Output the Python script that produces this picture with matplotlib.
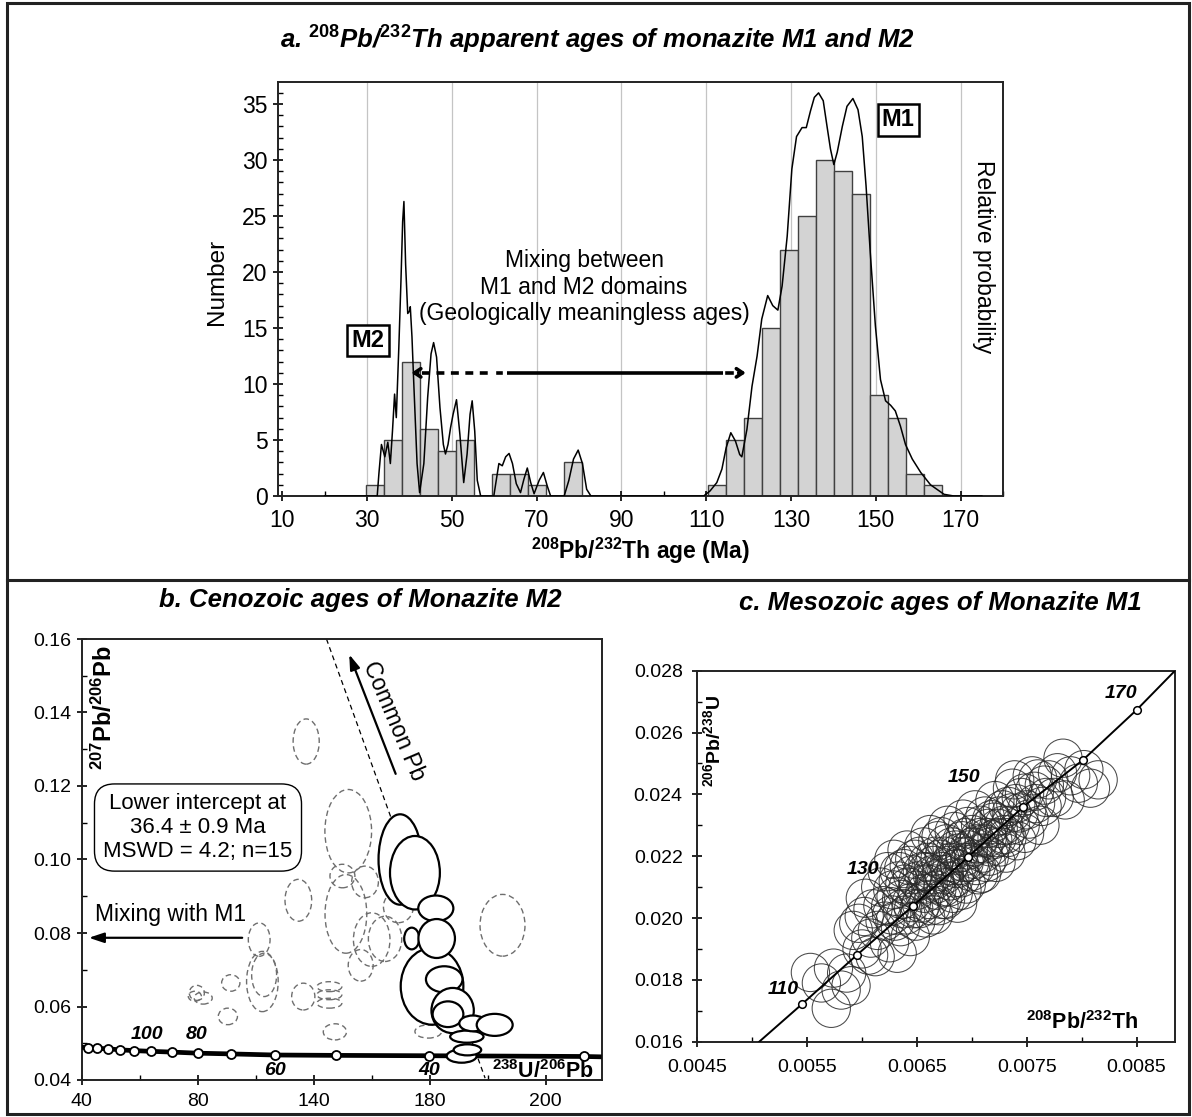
import matplotlib
matplotlib.use("Agg")
import matplotlib.pyplot as plt
from matplotlib.patches import Ellipse, Rectangle
from matplotlib.lines import Line2D

plt.rcParams['font.family'] = ['Liberation Sans', 'DejaVu Sans']
plt.rcParams['mathtext.fontset'] = 'custom'
plt.rcParams['mathtext.rm'] = 'Liberation Sans:bold'
plt.rcParams['mathtext.it'] = 'Liberation Sans:bold:italic'
plt.rcParams['mathtext.bf'] = 'Liberation Sans:bold'

# ---- a. histogram + probability curve ----
bin_start = 29.7
bin_width = 4.25
counts = [1, 5, 12, 6, 4, 5, 0, 2, 2, 1, 0, 3,
          0, 0, 0, 0, 0, 0, 0,
          1, 5, 7, 15, 22, 25, 30, 29, 27, 9, 7, 2, 1]

prob_age = [20, 32.4, 32.8, 33.4, 34.2, 34.9, 35.5, 36.0, 36.5, 36.9,
            37.5, 38.0, 38.4, 38.7, 39.1, 39.6, 40.0, 40.2, 40.6, 41.0,
            41.8, 42.4, 43.4, 44.3, 45.1, 45.7, 46.4, 47.2, 48.0, 48.5,
            49.1, 49.7, 50.3, 51.1, 51.9, 52.8, 53.6, 54.3, 54.8, 55.4,
            56.0, 56.8, 59.9, 60.6, 61.1, 61.9, 62.7, 63.5, 64.3, 65.2,
            66.2, 67.0, 67.8, 68.6, 69.4, 70.6, 71.6, 72.5, 73.3, 76.5,
            77.6, 78.7, 79.8, 80.8, 81.8, 82.8, 109.4, 110.9, 112.5, 113.7,
            114.7, 115.8, 116.9, 117.9, 118.4, 119.6, 120.8, 122.0, 123.1, 124.5,
            125.7, 126.9, 127.9, 129.1, 130.2, 131.3, 132.6, 133.6, 134.6, 135.5,
            136.5, 137.6, 138.5, 139.3, 140.1, 140.9, 142.1, 143.2, 144.6, 145.8,
            146.8, 147.7, 148.7, 149.9, 151.1, 152.3, 153.5, 154.6, 155.8, 157.0,
            158.6, 160.6, 162.9, 166.1, 168.4, 175]
prob_val = [0, 0, 2.0, 4.6, 3.5, 4.8, 2.9, 5.8, 9.1, 7.0,
            13.3, 19.2, 24.5, 26.3, 20.7, 16.3, 16.5, 16.9, 14.2, 10.3,
            2.9, 0.3, 2.9, 8.8, 12.7, 13.7, 12.4, 7.9, 4.6, 3.75,
            4.6, 6.1, 7.3, 8.6, 5.5, 1.2, 3.75, 7.3, 8.5, 5.8,
            1.4, 0, 0, 1.7, 2.9, 2.7, 3.5, 3.8, 2.9, 1.1,
            0.3, 1.5, 2.5, 1.2, 0.2, 1.4, 2.1, 0.9, 0, 0,
            1.4, 3.3, 4.1, 2.9, 0.6, 0, 0, 0.45, 1.2, 2.4,
            4.3, 5.65, 4.9, 3.7, 3.5, 5.95, 9.8, 12.5, 15.8, 17.9,
            17.0, 16.6, 18.75, 23.2, 29.2, 32.1, 32.9, 32.9, 34.4, 35.6,
            36.0, 35.3, 33.0, 31.0, 29.6, 30.7, 33.0, 34.8, 35.5, 34.5,
            32.1, 27.7, 21.7, 15.2, 10.4, 8.5, 8.1, 7.6, 6.25, 4.6,
            3.3, 2.1, 1.0, 0.15, 0, 0]

# ---- b. Tera-Wasserburg (M2) ----
conc_b_age = [150, 140, 130, 120, 110, 100, 90, 80, 70, 60, 50, 40, 30]
conc_b_x = [42.3, 45.4, 49.0, 53.2, 58.0, 63.9, 71.0, 80.0, 91.4, 106.7, 127.8, 159.8, 213.3]
conc_b_y = [0.0488, 0.0486, 0.0485, 0.0482, 0.0480, 0.0478, 0.0476, 0.0473, 0.0471,
            0.0468, 0.0467, 0.0466, 0.0464]
conc_b_ends_x = [40.0, 219.3]
conc_b_ends_y = [0.0489, 0.0463]

# solid ellipses (used in intercept): centre x, centre y, width, height
sol_x = [153.8, 160.8, 149.8, 154.9, 162.1, 162.4, 165.0, 167.9, 166.3, 172.8, 174.9, 182.4, 171.0, 173.0]
sol_y = [0.0785, 0.0655, 0.1000, 0.0964, 0.0867, 0.0785, 0.0674, 0.0589, 0.0579, 0.0518,
         0.0554, 0.0550, 0.0465, 0.0482]
sol_w = [5.2, 21.6, 14.9, 17.2, 12.1, 12.6, 12.6, 14.6, 10.6, 11.5, 9.4, 12.4, 10.3, 9.5]
sol_h = [0.0059, 0.0209, 0.0246, 0.0200, 0.0070, 0.0106, 0.0071, 0.0123, 0.0070, 0.0033,
         0.0043, 0.0060, 0.0036, 0.0030]

# dashed ellipses (rejected analyses)
dash_x = [117.4, 131.9, 114.7, 101.2, 102.3, 102.9, 91.4, 90.4, 79.7, 81.9, 79.0, 116.4,
          125.4, 125.4, 125.4, 127.3, 159.5, 129.9, 137.7, 131.1, 149.2, 140.0, 144.6, 136.2, 185.1]
dash_y = [0.1321, 0.1077, 0.0889, 0.0782, 0.0668, 0.0686, 0.0664, 0.0573, 0.0637, 0.0623,
          0.0628, 0.0627, 0.0654, 0.0632, 0.0609, 0.0531, 0.0532, 0.0955, 0.0939, 0.0852,
          0.0871, 0.0782, 0.0784, 0.0712, 0.0821]
dash_w = [9.0, 16.1, 9.2, 7.5, 10.9, 8.6, 6.3, 6.6, 5.2, 6.2, 4.5, 8.0,
          8.6, 8.6, 8.6, 8.0, 9.2, 8.6, 9.2, 14.4, 10.3, 12.6, 11.5, 8.6, 15.5]
dash_h = [0.0123, 0.0227, 0.0114, 0.0091, 0.0164, 0.0118, 0.0045, 0.0045, 0.0041, 0.0033,
          0.0027, 0.0073, 0.0027, 0.0027, 0.0027, 0.0044, 0.0036, 0.0064, 0.0086, 0.0214,
          0.0086, 0.0146, 0.0123, 0.0086, 0.0168]

discordia_x = [124.4, 179.1]
discordia_y = [0.16, 0.0405]

# ---- c. 206Pb/238U vs 208Pb/232Th (M1) ----
conc_c_age = [110, 120, 130, 140, 150, 160, 170]
conc_c_x = [0.005455, 0.005952, 0.006462, 0.006965, 0.007468, 0.008008, 0.008500]
conc_c_y = [0.01722, 0.01880, 0.02039, 0.02197, 0.02360, 0.02510, 0.02673]
conc_c_ends_x = [0.005064, 0.00885]
conc_c_ends_y = [0.016, 0.028]

c_x = [0.00553, 0.00563, 0.00572, 0.00574, 0.00581, 0.00586, 0.00590, 0.00592, 0.00597, 0.00600,
       0.00602, 0.00603, 0.00608, 0.00610, 0.00606, 0.00612, 0.00614, 0.00617, 0.00619, 0.00621,
       0.00623, 0.00625, 0.00626, 0.00628, 0.00629, 0.00630, 0.00632, 0.00633, 0.00635, 0.00636,
       0.00638, 0.00640, 0.00641, 0.00642, 0.00644, 0.00645, 0.00646, 0.00648, 0.00649, 0.00650,
       0.00652, 0.00654, 0.00655, 0.00656, 0.00658, 0.00659, 0.00660, 0.00661, 0.00662, 0.00664,
       0.00665, 0.00666, 0.00667, 0.00668, 0.00669, 0.00670, 0.00672, 0.00673, 0.00674, 0.00675,
       0.00676, 0.00678, 0.00679, 0.00680, 0.00682, 0.00683, 0.00684, 0.00686, 0.00687, 0.00688,
       0.00690, 0.00691, 0.00692, 0.00693, 0.00695, 0.00696, 0.00697, 0.00699, 0.00700, 0.00702,
       0.00703, 0.00705, 0.00706, 0.00708, 0.00709, 0.00710, 0.00712, 0.00714, 0.00716, 0.00718,
       0.00719, 0.00721, 0.00722, 0.00724, 0.00726, 0.00728, 0.00730, 0.00731, 0.00733, 0.00735,
       0.00737, 0.00739, 0.00741, 0.00743, 0.00745, 0.00748, 0.00748, 0.00752, 0.00755, 0.00758,
       0.00762, 0.00764, 0.00766, 0.00770, 0.00775, 0.00783, 0.00785, 0.00790, 0.00797, 0.00815,
       0.00627, 0.00631, 0.00634, 0.00637, 0.00639, 0.00643, 0.00647, 0.00651, 0.00653, 0.00657,
       0.00659, 0.00663, 0.00665, 0.00667, 0.00671, 0.00673, 0.00675, 0.00677, 0.00679, 0.00681,
       0.00684, 0.00685, 0.00689, 0.00691, 0.00694, 0.00694, 0.00698, 0.00701, 0.00704, 0.00707,
       0.00711, 0.00713, 0.00715, 0.00717, 0.00720, 0.00723, 0.00725, 0.00729, 0.00732, 0.00736,
       0.00740, 0.00744, 0.00750, 0.00757, 0.00760, 0.00768, 0.00778, 0.00802, 0.00808]
c_y = [0.01824, 0.01790, 0.01708, 0.01838, 0.01767, 0.01822, 0.01781, 0.01960, 0.01983, 0.01900,
       0.02005, 0.02064, 0.01935, 0.02030, 0.01880, 0.01875, 0.01960, 0.02100, 0.02040, 0.01990,
       0.02150, 0.01920, 0.02037, 0.02091, 0.02190, 0.01990, 0.01886, 0.02120, 0.01972, 0.02060,
       0.02160, 0.02010, 0.02220, 0.02100, 0.01940, 0.02050, 0.02140, 0.02190, 0.01990, 0.02090,
       0.02030, 0.02048, 0.02150, 0.02230, 0.02000, 0.02110, 0.02180, 0.02060, 0.02270, 0.02140,
       0.02010, 0.02123, 0.02200, 0.02090, 0.02250, 0.02040, 0.02263, 0.02150, 0.02100, 0.02200,
       0.02060, 0.02300, 0.02170, 0.02120, 0.02230, 0.02080, 0.02280, 0.02160, 0.02048, 0.02210,
       0.02130, 0.02250, 0.02320, 0.02180, 0.02110, 0.02296, 0.02220, 0.02150, 0.02270, 0.02190,
       0.02350, 0.02240, 0.02140, 0.02300, 0.02145, 0.02210, 0.02330, 0.02260, 0.02200, 0.02318,
       0.02253, 0.02380, 0.02180, 0.02290, 0.02230, 0.02350, 0.02270, 0.02210, 0.02361, 0.02300,
       0.02420, 0.02447, 0.02250, 0.02340, 0.02390, 0.02274, 0.02404, 0.02320, 0.02460, 0.02370,
       0.02300, 0.02361, 0.02430, 0.02447, 0.02390, 0.02517, 0.02382, 0.02460, 0.02436, 0.02447,
       0.02010, 0.02070, 0.02150, 0.02030, 0.02110, 0.02170, 0.02030, 0.02120, 0.02200, 0.02080,
       0.02150, 0.02040, 0.02170, 0.02110, 0.02190, 0.02060, 0.02140, 0.02240, 0.02100, 0.02180,
       0.02130, 0.02220, 0.02170, 0.02090, 0.02260, 0.02200, 0.02180, 0.02230, 0.02170, 0.02260,
       0.02240, 0.02180, 0.02290, 0.02230, 0.02310, 0.02260, 0.02330, 0.02300, 0.02260, 0.02340,
       0.02370, 0.02300, 0.02350, 0.02410, 0.02450, 0.02390, 0.02470, 0.02480, 0.02420]

W, H = 1192, 1117
fig = plt.figure(figsize=(W / 100, H / 100), dpi=100)


def px_axes(l, t, r, b):
    return fig.add_axes([l / W, 1 - b / H, (r - l) / W, (b - t) / H])


def style_ticks(ax, size, pad_x, pad_y):
    ax.tick_params(which='major', direction='inout', length=7, width=1.2, labelsize=size)
    ax.tick_params(which='minor', direction='in', length=3.5, width=1.0)
    ax.tick_params(axis='x', which='major', pad=pad_x)
    ax.tick_params(axis='y', which='major', pad=pad_y)
    for s in ax.spines.values():
        s.set_linewidth(1.4)
        s.set_color('#222222')


# ---------- panel a ----------
axa = px_axes(278, 81.7, 1003, 496)
axa.set_xlim(9, 180)
axa.set_ylim(0, 37)
for g in range(30, 171, 20):
    axa.axvline(g, color='#c4c4c4', lw=0.9, zorder=0)
lefts = [bin_start + i * bin_width for i in range(len(counts))]
axa.bar(lefts, counts, width=bin_width, align='edge', color='#d3d3d3',
        edgecolor='#404040', linewidth=1.0, zorder=2)
axa.plot(prob_age, prob_val, color='black', lw=1.1, zorder=3)
axa.set_xticks(range(10, 171, 20))
axa.set_xticks(range(20, 181, 20), minor=True)
axa.set_yticks(range(0, 36, 5))
axa.set_yticks(range(0, 37), minor=True)
style_ticks(axa, 16.5, 6, 4)

axa.text(30.2, 13.9, 'M2', fontsize=17, weight='bold', ha='center', va='center',
         bbox=dict(boxstyle='square,pad=0.18', fc='white', ec='black', lw=1.8), zorder=5)
axa.text(155.3, 33.6, 'M1', fontsize=17, weight='bold', ha='center', va='center',
         bbox=dict(boxstyle='square,pad=0.18', fc='white', ec='black', lw=1.8), zorder=5)
axa.text(81.2, 18.66, 'Mixing between\nM1 and M2 domains\n(Geologically meaningless ages)',
         fontsize=16.5, ha='center', va='center', multialignment='center', zorder=5)
axa.text(175.4, 21.4, 'Relative probability', fontsize=16.5, rotation=270,
         ha='center', va='center')

# mixing arrow: dashed / solid / dash-dot with chevron heads
axa.plot([43.0, 58.5], [11, 11], color='black', lw=2.6, ls=(0, (2.2, 1.8)), zorder=5)
axa.plot([60.8, 61.6], [11, 11], color='black', lw=2.6, zorder=5)
axa.plot([63.0, 114.0], [11, 11], color='black', lw=2.6, zorder=5, solid_capstyle='butt')
axa.plot([114.8, 116.0], [11, 11], color='black', lw=2.6, zorder=5)
axa.annotate('', xy=(39.8, 11), xytext=(42.6, 11), zorder=6,
             arrowprops=dict(arrowstyle='->,head_length=0.45,head_width=0.3', lw=2.6, color='black'))
axa.annotate('', xy=(120.0, 11), xytext=(117.0, 11), zorder=6,
             arrowprops=dict(arrowstyle='->,head_length=0.45,head_width=0.3', lw=2.6, color='black'))

fig.text(217 / W, 1 - 282 / H, 'Number', fontsize=17.5, rotation=90, ha='center', va='center')
fig.text(640 / W, 1 - 551 / H, r'$^{208}$Pb/$^{232}$Th age (Ma)', fontsize=16.5,
         weight='bold', ha='center', va='center')
fig.text(597 / W, 1 - 40 / H,
         r'a. $^{\mathit{208}}$Pb/$^{\mathit{232}}$Th apparent ages of monazite M1 and M2',
         fontsize=18.5, weight='bold', style='italic', ha='center', va='center')

# ---------- panel b ----------
axb = px_axes(81.7, 639, 601.7, 1080)
axb.set_xlim(40, 219.3)
axb.set_ylim(0.04, 0.16)
for x, y, w, h in zip(dash_x, dash_y, dash_w, dash_h):
    axb.add_patch(Ellipse((x, y), w, h, fill=False, ec='#6e6e6e', lw=1.0,
                          ls=(0, (4, 2.5)), zorder=1))
axb.plot(discordia_x, discordia_y, color='black', lw=0.9, ls=(0, (4, 3)), zorder=1.5)
axb.plot([conc_b_ends_x[0]] + conc_b_x + [conc_b_ends_x[1]],
         [conc_b_ends_y[0]] + conc_b_y + [conc_b_ends_y[1]],
         color='black', lw=3.4, zorder=3, solid_capstyle='butt')
axb.plot(conc_b_x, conc_b_y, 'o', ms=6.5, mfc='white', mec='black', mew=1.3, zorder=4)
for x, y, w, h in zip(sol_x, sol_y, sol_w, sol_h):
    axb.add_patch(Ellipse((x, y), w, h, fc='white', ec='black', lw=1.6, zorder=5))

for txt, x, y in [('100', 62.4, 0.0523), ('80', 79.7, 0.0523), ('60', 106.7, 0.0425), ('40', 159.9, 0.0425)]:
    axb.text(x, y, txt, fontsize=14, weight='bold', style='italic', ha='center', va='center', zorder=6)

axb.annotate('', xy=(131.9, 0.1565), xytext=(148.6, 0.1226),
             arrowprops=dict(arrowstyle='-|>,head_length=0.9,head_width=0.3', lw=1.6, color='black'))
axb.text(147.5, 0.1377, 'Common Pb', fontsize=16.5, rotation=-67, rotation_mode='anchor',
         ha='center', va='center')
axb.annotate('', xy=(41.5, 0.0787), xytext=(96.3, 0.0787),
             arrowprops=dict(arrowstyle='-|>,head_length=0.9,head_width=0.3', lw=1.6, color='black'))
axb.text(70.5, 0.0850, 'Mixing with M1', fontsize=16.5, ha='center', va='center')
axb.text(80.1, 0.1087, 'Lower intercept at\n36.4 \u00b1 0.9 Ma\nMSWD = 4.2; n=15', fontsize=16,
         ha='center', va='center', multialignment='center',
         bbox=dict(boxstyle='round,pad=0.4,rounding_size=0.9', fc='white', ec='black', lw=1.0))

axb.set_xticks([40, 80, 120, 160, 200])
axb.set_xticklabels(['40', '80', '140', '180', '200'])
axb.set_xticks([60, 100, 140, 180], minor=True)
axb.set_yticks([0.04, 0.06, 0.08, 0.10, 0.12, 0.14, 0.16])
axb.set_yticklabels(['0.04', '0.06', '0.08', '0.10', '0.12', '0.14', '0.16'])
axb.set_yticks([0.05, 0.07, 0.09, 0.11, 0.13, 0.15], minor=True)
style_ticks(axb, 14, 6, 4)
axb.text(0.043, 0.985, r'$^{207}$Pb/$^{206}$Pb', transform=axb.transAxes, rotation=90,
         fontsize=17, weight='bold', ha='center', va='top')
axb.text(0.985, 0.004, r'$^{238}$U/$^{206}$Pb', transform=axb.transAxes,
         fontsize=15.5, weight='bold', ha='right', va='baseline')
fig.text(360 / W, 1 - 600 / H, 'b. Cenozoic ages of Monazite M2', fontsize=18.5,
         weight='bold', style='italic', ha='center', va='center')

# ---------- panel c ----------
axc = px_axes(697.3, 670.7, 1175, 1041.7)
axc.set_xlim(0.0045, 0.00885)
axc.set_ylim(0.016, 0.028)
axc.scatter(c_x, c_y, s=760, facecolors='none', edgecolors='#2a2a2a', linewidths=0.75,
            alpha=0.85, zorder=2)
axc.plot([conc_c_ends_x[0]] + conc_c_x + [conc_c_ends_x[1]],
         [conc_c_ends_y[0]] + conc_c_y + [conc_c_ends_y[1]], color='black', lw=1.4, zorder=3)
axc.plot(conc_c_x, conc_c_y, 'o', ms=5.5, mfc='white', mec='black', mew=1.1, zorder=4)
for txt, x, y in [('110', 0.005281, 0.0177), ('130', 0.006010, 0.02158),
                  ('150', 0.006927, 0.02455), ('170', 0.008361, 0.02725)]:
    axc.text(x, y, txt, fontsize=14, weight='bold', style='italic', ha='center', va='center', zorder=6)
axc.set_xticks([0.0045, 0.0055, 0.0065, 0.0075, 0.0085])
axc.set_xticklabels(['0.0045', '0.0055', '0.0065', '0.0075', '0.0085'])
axc.set_xticks([0.0050, 0.0060, 0.0070, 0.0080], minor=True)
axc.set_yticks([0.016, 0.018, 0.020, 0.022, 0.024, 0.026, 0.028])
axc.set_yticklabels(['0.016', '0.018', '0.020', '0.022', '0.024', '0.026', '0.028'])
axc.set_yticks([0.017, 0.019, 0.021, 0.023, 0.025, 0.027], minor=True)
style_ticks(axc, 14, 9, 7)
axc.text(0.033, 0.935, r'$^{206}$Pb/$^{238}$U', transform=axc.transAxes, rotation=90,
         fontsize=14, weight='bold', ha='center', va='top')
axc.text(0.9226, 0.033, r'$^{208}$Pb/$^{232}$Th', transform=axc.transAxes,
         fontsize=15.5, weight='bold', ha='right', va='baseline')
fig.text(940 / W, 1 - 603 / H, 'c. Mesozoic ages of Monazite M1', fontsize=18.5,
         weight='bold', style='italic', ha='center', va='center')

# ---------- frame ----------
fig.add_artist(Rectangle((6.5 / W, 1 - 1114 / H), (1189 - 6.5) / W, (1114 - 3) / H,
                         transform=fig.transFigure, fill=False, ec='#222222', lw=2.2))
fig.add_artist(Line2D([6.5 / W, 1189 / W], [1 - 579.5 / H, 1 - 579.5 / H],
                      transform=fig.transFigure, color='#222222', lw=2.2))

fig.savefig('out.png', dpi=100)
